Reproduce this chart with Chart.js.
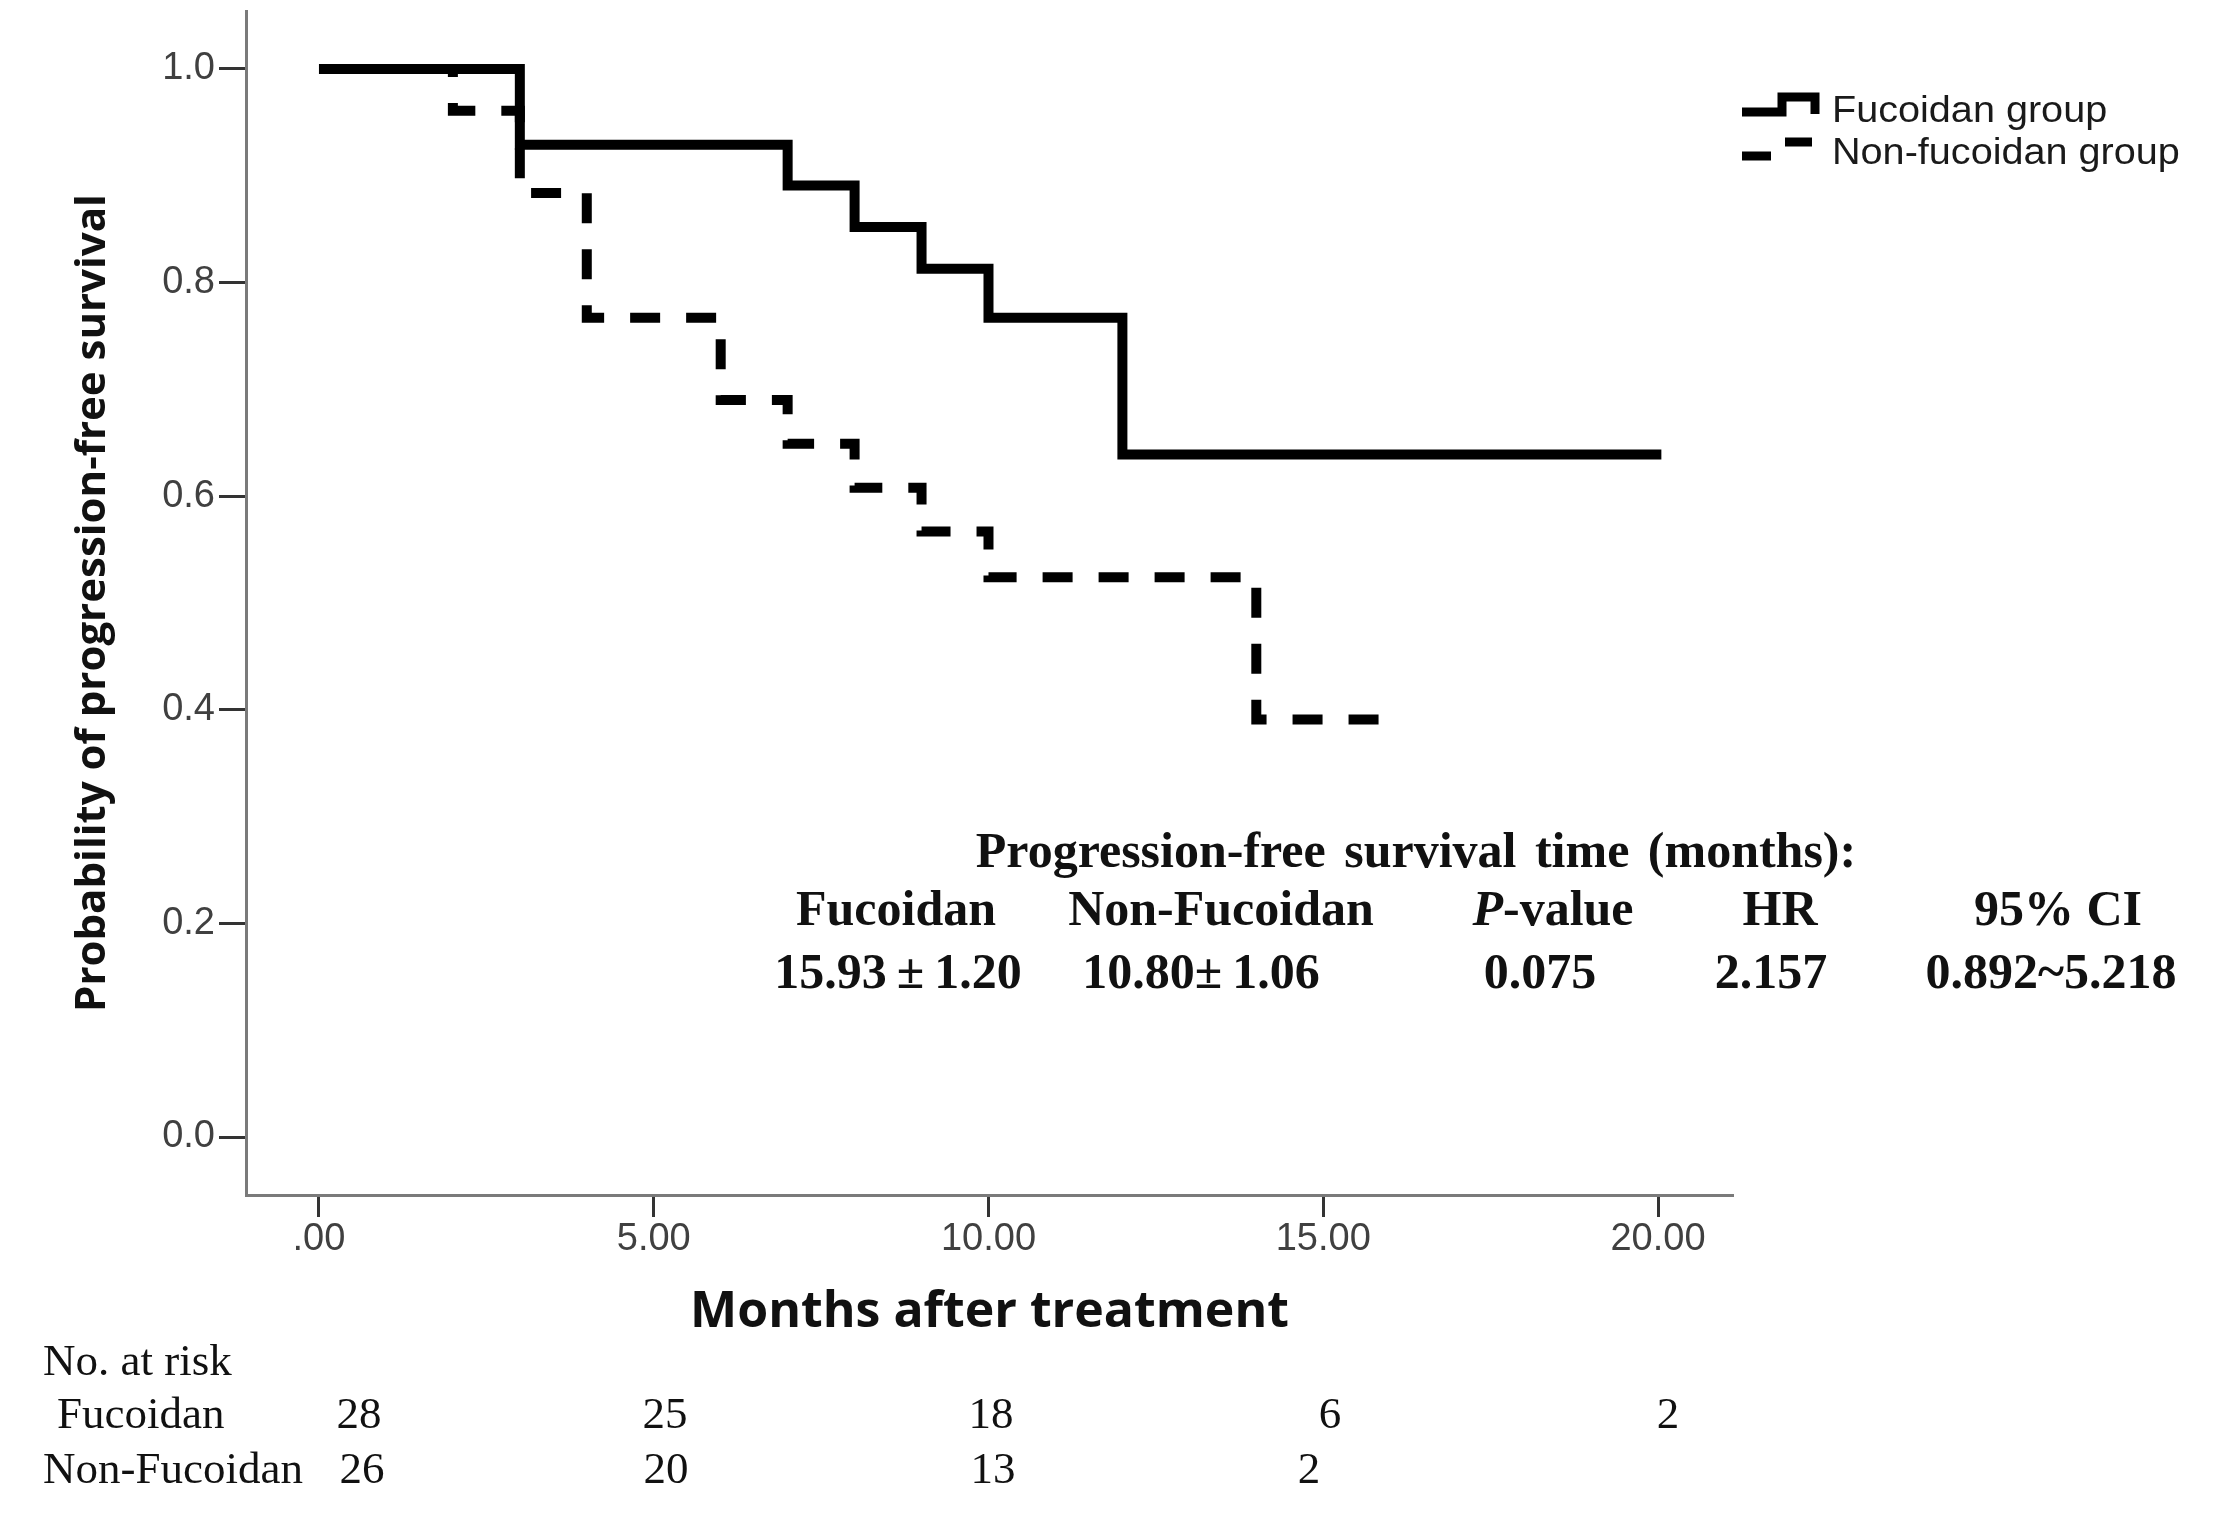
<!DOCTYPE html>
<html><head><meta charset="utf-8">
<script src="https://cdn.jsdelivr.net/npm/chart.js@4.4.1/dist/chart.umd.min.js"></script>
<style>
html,body{margin:0;padding:0;background:#fff;}
#wrap{position:relative;width:2230px;height:1519px;overflow:hidden;background:#fff;}
#c{position:absolute;left:0;top:0;}
.t{position:absolute;white-space:nowrap;line-height:1;transform:translate(-50%,-50%);}
.l{position:absolute;white-space:nowrap;line-height:1;transform:translateY(-50%);}
.serifB{font-family:"Liberation Serif","Times New Roman",serif;font-weight:bold;font-size:50px;color:#111;}
.serif{font-family:"Liberation Serif","Times New Roman",serif;font-size:45px;color:#111;}
.leg{position:absolute;font-family:"Liberation Sans",Arial,sans-serif;font-size:36px;color:#1a1a1a;white-space:nowrap;line-height:1;transform-origin:0 50%;transform:translateY(-50%) scaleX(1.1);}
</style></head><body>
<div id="wrap"><canvas id="c" width="2230" height="1519"></canvas><div id="overlay"></div></div>
<script>
// ---- data ----
const xTickValues = [0, 5, 10, 15, 20];
const xTickLabels = ['.00', '5.00', '10.00', '15.00', '20.00'];
const yTickValues = [0, 0.2, 0.4, 0.6, 0.8, 1.0];
const yTickLabels = ['0.0', '0.2', '0.4', '0.6', '0.8', '1.0'];
const seriesNames = ['Fucoidan group', 'Non-fucoidan group'];
const fucoidanTimes = [0, 3, 7, 8, 9, 10, 12, 20.05];
const fucoidanSurv  = [1.0, 0.929, 0.891, 0.852, 0.813, 0.767, 0.639, 0.639];
const nonFucoidanTimes = [0, 2, 3, 4, 6, 7, 8, 9, 10, 14, 16.2];
const nonFucoidanSurv  = [1.0, 0.961, 0.884, 0.767, 0.690, 0.649, 0.608, 0.567, 0.524, 0.391, 0.391];
const riskGroups = ['Fucoidan', 'Non-Fucoidan'];
const riskFucoidan = [28, 25, 18, 6, 2];
const riskNonFucoidan = [26, 20, 13, 2];
const statTitle = 'Progression-free survival time (months):';
const statHeaders = ['Fucoidan', 'Non-Fucoidan', '<i>P</i>-value', 'HR', '95% CI'];
const statValues = ['15.93\u2009±\u20091.20', '10.80±\u20091.06', '0.075', '2.157', '0.892~5.218'];

// ---- layout ----
const headerX = [896, 1221, 1553, 1780, 2058];
const valueX = [898, 1201, 1540, 1771, 2051];
const riskFucX = [359, 665, 991, 1330, 1668];
const riskNonX = [362, 666, 993, 1309];

const toPts = (xs, ys) => xs.map((x, i) => ({x: x, y: ys[i]}));

const legendPlugin = {
  id: 'kmLegend',
  afterDraw(chart) {
    const ctx = chart.ctx;
    ctx.save();
    ctx.strokeStyle = '#000';
    ctx.lineCap = 'butt';
    ctx.lineJoin = 'miter';
    ctx.lineWidth = 9;
    ctx.setLineDash([]);
    ctx.beginPath();
    ctx.moveTo(1742, 112); ctx.lineTo(1782, 112); ctx.lineTo(1782, 97);
    ctx.lineTo(1815, 97); ctx.lineTo(1815, 114);
    ctx.stroke();
    ctx.beginPath();
    ctx.moveTo(1742, 156); ctx.lineTo(1771, 156);
    ctx.moveTo(1785, 142); ctx.lineTo(1812, 142);
    ctx.stroke();
    ctx.restore();
  }
};

new Chart(document.getElementById('c'), {
  type: 'line',
  data: {
    datasets: [
      {label: seriesNames[0], data: toPts(fucoidanTimes, fucoidanSurv), stepped: 'before',
       borderColor: '#000', borderWidth: 10, pointRadius: 0, borderCapStyle: 'butt', borderJoinStyle: 'miter', fill: false},
      {label: seriesNames[1], data: toPts(nonFucoidanTimes, nonFucoidanSurv), stepped: 'before',
       borderColor: '#000', borderWidth: 10, borderDash: [30, 26], pointRadius: 0, borderCapStyle: 'butt', borderJoinStyle: 'miter', fill: false}
    ]
  },
  options: {
    responsive: false,
    devicePixelRatio: 1,
    animation: false,
    layout: {padding: {top: 11, right: 497, left: 0, bottom: 0}},
    plugins: {legend: {display: false}, tooltip: {enabled: false}},
    scales: {
      x: {
        type: 'linear', min: -1.09, max: 21.12,
        afterFit: s => { s.height = 324; s.paddingLeft = 0; s.paddingRight = 0; },
        afterBuildTicks: s => { s.ticks = xTickValues.map(v => ({value: v})); },
        ticks: {callback: (v) => { const i = xTickValues.indexOf(v); return i >= 0 ? xTickLabels[i] : ''; },
                font: {family: '"Liberation Sans", Arial, sans-serif', size: 38}, color: '#404040', padding: 0, maxRotation: 0, autoSkip: false},
        grid: {display: true, drawOnChartArea: false, drawTicks: true, tickLength: 22, tickColor: '#333', tickWidth: 3},
        border: {display: true, color: '#7a7a7a', width: 3},
        title: {display: true, text: 'Months after treatment', color: '#111',
                font: {family: '"Open Sans", sans-serif', size: 50, weight: 'bold'}, padding: {top: 0, bottom: 176}}
      },
      y: {
        type: 'linear', min: -0.0543, max: 1.0543,
        afterFit: s => { s.width = 246; s.paddingTop = 0; s.paddingBottom = 0; },
        afterBuildTicks: s => { s.ticks = yTickValues.map(v => ({value: v})); },
        ticks: {callback: (v) => { const i = yTickValues.findIndex(t => Math.abs(t - v) < 1e-9); return i >= 0 ? yTickLabels[i] : ''; },
                font: {family: '"Liberation Sans", Arial, sans-serif', size: 38}, color: '#404040', padding: 4, autoSkip: false},
        grid: {display: true, drawOnChartArea: false, drawTicks: true, tickLength: 27, tickColor: '#333', tickWidth: 3},
        border: {display: true, color: '#7a7a7a', width: 3},
        title: {display: true, text: 'Probability of progression-free survival', color: '#111',
                font: {family: '"Open Sans", sans-serif', size: 42, weight: 'bold'}, padding: {top: 68, bottom: 0}}
      }
    }
  },
  plugins: [legendPlugin]
});

// ---- text overlays ----
const ov = document.getElementById('overlay');
function add(cls, html, x, y) {
  const d = document.createElement('div');
  d.className = cls; d.innerHTML = html;
  d.style.left = x + 'px'; d.style.top = y + 'px';
  ov.appendChild(d);
  return d;
}
add('leg', seriesNames[0], 1832, 110);
add('leg', seriesNames[1], 1832, 152);
add('t serifB', statTitle, 1416, 850).style.wordSpacing = '6px';
statHeaders.forEach((h, i) => add('t serifB', h, headerX[i], 908));
statValues.forEach((v, i) => add('t serifB', v, valueX[i], 971));
add('l serif', 'No. at risk', 43, 1360);
add('l serif', riskGroups[0], 57, 1413);
add('l serif', riskGroups[1], 43, 1468);
riskFucoidan.forEach((n, i) => add('t serif', String(n), riskFucX[i], 1413));
riskNonFucoidan.forEach((n, i) => add('t serif', String(n), riskNonX[i], 1468));
</script>
</body></html>
